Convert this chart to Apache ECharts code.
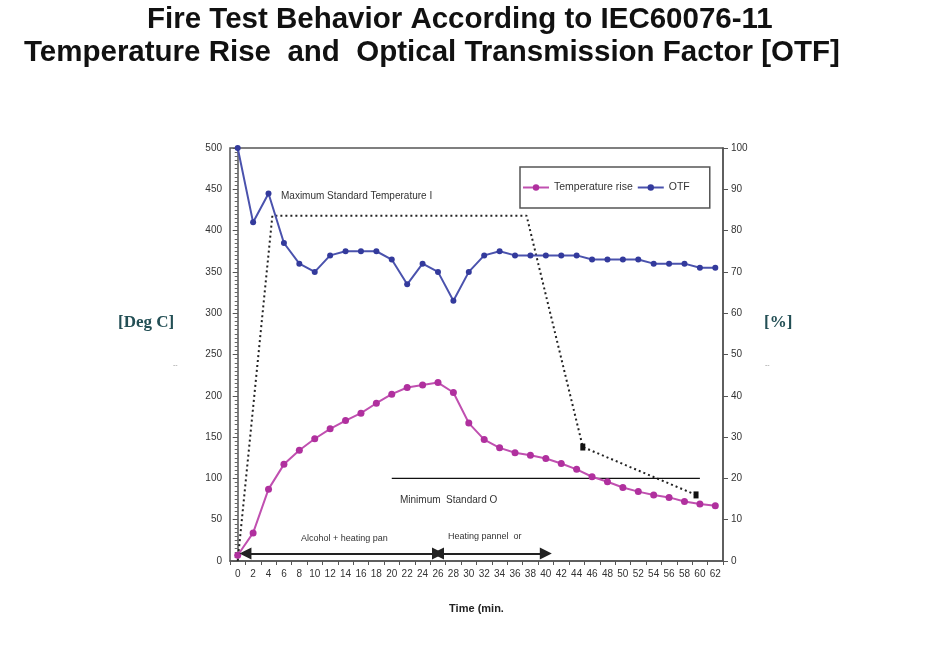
<!DOCTYPE html>
<html>
<head>
<meta charset="utf-8">
<script src="https://cdn.jsdelivr.net/npm/echarts@6/dist/echarts.min.js"></script>
<style>
  html, body { margin: 0; padding: 0; background: #fff; }
  #chart { width: 925px; height: 660px; }
</style>
</head>
<body>
<div id="chart"></div>
<script>
// time axis (min.)
const minutes = [0, 2, 4, 6, 8, 10, 12, 14, 16, 18, 20, 22, 24, 26, 28, 30,
  32, 34, 36, 38, 40, 42, 44, 46, 48, 50, 52, 54, 56, 58, 60, 62]

// temperature rise [Deg C]
const tempRise = [7, 34, 87, 117, 134, 148, 160, 170, 179, 191, 202, 210, 213, 216, 204, 167,
  147, 137, 131, 128, 124, 118, 111, 102, 96, 89, 84, 80, 77, 72, 69, 67]

// optical transmission factor [%]
const otf = [100, 82, 89, 77, 72, 70, 74, 75, 75, 75, 73, 67, 72, 70, 63, 70,
  74, 75, 74, 74, 74, 74, 74, 73, 73, 73, 73, 72, 72, 72, 71, 71]

// maximum standard temperature curve [min, Deg C]
const maxStdTemp = [[0, 0], [4.5, 418], [37.5, 418], [44.8, 138], [59.5, 80]]
// minimum standard OTF [min, %]
const minStdOtf = [[20, 20], [60, 20]]
// phase arrows [from min, to min] at temperature level
const phases = [[1, 26], [26, 40]]
const phaseLevel = 9

const leftTicks = { min: 0, max: 500, interval: 50 }
const rightTicks = { min: 0, max: 100, interval: 10 }

const chart = echarts.init(document.getElementById('chart'))

const axisFont = { fontFamily: 'Liberation Sans', fontSize: 10, color: '#333' }
const axisLine = { show: true, lineStyle: { color: '#555', width: 1.5 } }
const titleFont = { fontFamily: 'Liberation Sans', fontSize: 29.5, fontWeight: 'bold', color: '#111' }

chart.setOption({
  animation: false,
  title: [
    {
      text: 'Fire Test Behavior According to IEC60076-11',
      left: 142, top: 0,
      textStyle: titleFont
    },
    {
      text: 'Temperature Rise  and  Optical Transmission Factor [OTF]',
      left: 19, top: 33,
      textStyle: titleFont
    }
  ],
  legend: {
    data: ['Temperature rise', 'OTF'],
    left: 520, top: 167,
    padding: [15, 20, 15, 2],
    itemGap: 4,
    itemWidth: 26,
    itemHeight: 8,
    borderColor: '#555',
    borderWidth: 1.5,
    textStyle: { fontFamily: 'Liberation Sans', fontSize: 10.5, color: '#333' }
  },
  grid: {
    left: 230, right: 202, top: 148, bottom: 99,
    show: true, borderColor: '#555', borderWidth: 1.5
  },
  xAxis: [
    {
      type: 'category',
      data: minutes,
      boundaryGap: true,
      name: 'Time (min.',
      nameLocation: 'middle',
      nameGap: 42,
      nameTextStyle: { fontFamily: 'Liberation Sans', fontSize: 11, fontWeight: 'bold', color: '#222' },
      axisLine: axisLine,
      axisTick: { show: true, length: 4, lineStyle: { color: '#555' } },
      axisLabel: Object.assign({ interval: 0, margin: 8 }, axisFont),
      splitLine: { show: false }
    },
    {
      type: 'value',
      min: -1, max: 63,
      show: false
    }
  ],
  yAxis: [
    Object.assign({
      type: 'value',
      position: 'left',
      axisLine: axisLine,
      axisTick: { show: true, length: 5, lineStyle: { color: '#555' } },
      minorTick: { show: true, splitNumber: 10, length: 3, lineStyle: { color: '#666' } },
      axisLabel: axisFont,
      splitLine: { show: false }
    }, leftTicks),
    Object.assign({
      type: 'value',
      position: 'right',
      axisLine: axisLine,
      axisTick: { show: true, length: 5, lineStyle: { color: '#555' } },
      axisLabel: axisFont,
      splitLine: { show: false }
    }, rightTicks)
  ],
  graphic: [
    { type: 'text', left: 118, top: 314, style: { text: '[Deg C]', font: 'bold 17px "Liberation Serif"', fill: '#234f55' } },
    { type: 'text', left: 764, top: 314, style: { text: '[%]', font: 'bold 17px "Liberation Serif"', fill: '#234f55' } },
    { type: 'text', left: 173, top: 362, style: { text: '--', font: '7px "Liberation Sans"', fill: '#999' } },
    { type: 'text', left: 765, top: 362, style: { text: '--', font: '7px "Liberation Sans"', fill: '#999' } },
    { type: 'text', left: 281, top: 191, style: { text: 'Maximum Standard Temperature I', font: '10px "Liberation Sans"', fill: '#333' } },
    { type: 'text', left: 400, top: 495, style: { text: 'Minimum  Standard O', font: '10px "Liberation Sans"', fill: '#333' } },
    { type: 'text', left: 301, top: 534, style: { text: 'Alcohol + heating pan', font: '9px "Liberation Sans"', fill: '#333' } },
    { type: 'text', left: 448, top: 532, style: { text: 'Heating pannel  or', font: '9px "Liberation Sans"', fill: '#333' } }
  ],
  series: [
    {
      name: 'Temperature rise',
      type: 'line',
      xAxisIndex: 0, yAxisIndex: 0,
      data: tempRise,
      symbol: 'circle', symbolSize: 7,
      color: '#b0309e',
      lineStyle: { width: 2, color: '#c050b0' },
      z: 4
    },
    {
      name: 'OTF',
      type: 'line',
      xAxisIndex: 0, yAxisIndex: 1,
      data: otf,
      symbol: 'circle', symbolSize: 6,
      color: '#333a9c',
      lineStyle: { width: 2, color: '#4a52ad' },
      z: 4
    },
    {
      name: 'Max standard',
      type: 'line',
      xAxisIndex: 1, yAxisIndex: 0,
      data: maxStdTemp.map((p, i) => ({
        value: p,
        symbol: i >= 3 ? 'rect' : 'none',
        symbolSize: [5, 7]
      })),
      color: '#111',
      lineStyle: { type: [2, 3], width: 2, color: '#222' },
      z: 3
    },
    {
      name: 'Min standard',
      type: 'line',
      xAxisIndex: 1, yAxisIndex: 1,
      data: minStdOtf,
      symbol: 'none',
      lineStyle: { width: 1.2, color: '#111' },
      z: 3
    },
    {
      name: 'Phases',
      type: 'line',
      xAxisIndex: 1, yAxisIndex: 0,
      data: [],
      markLine: {
        silent: true,
        symbol: ['triangle', 'triangle'],
        symbolSize: [12, 12],
        label: { show: false },
        lineStyle: { color: '#222', width: 2, type: 'solid' },
        data: phases.map(p => [{ coord: [p[0], phaseLevel] }, { coord: [p[1], phaseLevel] }])
      },
      z: 5
    }
  ]
})
</script>
</body>
</html>
